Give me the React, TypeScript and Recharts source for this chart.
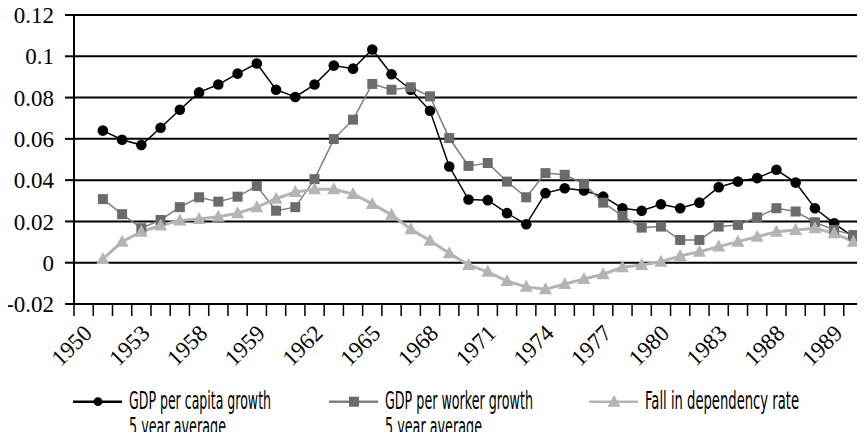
import React from "react";
import { LineChart, Line, XAxis, YAxis, CartesianGrid, Legend, ReferenceLine } from "recharts";

// ---- data ----
const axisFirstYear = 1950;
const axisLastYear = 1990;
const years = [
  1951, 1952, 1953, 1954, 1955, 1956, 1957, 1958, 1959, 1960,
  1961, 1962, 1963, 1964, 1965, 1966, 1967, 1968, 1969, 1970,
  1971, 1972, 1973, 1974, 1975, 1976, 1977, 1978, 1979, 1980,
  1981, 1982, 1983, 1984, 1985, 1986, 1987, 1988, 1989, 1990,
];
const xTickLabels = ["1950", "1953", "1958", "1959", "1962", "1965", "1968", "1971", "1974", "1977", "1980", "1983", "1988", "1989"];
const yTicks = [-0.02, 0, 0.02, 0.04, 0.06, 0.08, 0.1, 0.12];

const perCapita = [
  0.064, 0.0596, 0.057, 0.0654, 0.0741, 0.0825, 0.0863, 0.0916, 0.0965, 0.0838,
  0.0803, 0.0863, 0.0955, 0.094, 0.1033, 0.0913, 0.0838, 0.0736, 0.0466, 0.0306,
  0.0303, 0.024, 0.0186, 0.0337, 0.0361, 0.035, 0.032, 0.0264, 0.0252, 0.0283,
  0.0264, 0.0291, 0.0366, 0.0393, 0.041, 0.045, 0.0388, 0.0264, 0.0191, 0.0125,
];
const perWorker = [
  0.0308, 0.0235, 0.0167, 0.0207, 0.0269, 0.0317, 0.0296, 0.032, 0.0372, 0.0252,
  0.0269, 0.0405, 0.0599, 0.0693, 0.0866, 0.0838, 0.085, 0.0806, 0.0604, 0.0469,
  0.0483, 0.0393, 0.0317, 0.0434, 0.0426, 0.0382, 0.0291, 0.0227, 0.017, 0.0175,
  0.011, 0.011, 0.0175, 0.0183, 0.022, 0.0264, 0.0248, 0.0196, 0.0159, 0.0134,
];
const dependency = [
  0.0018, 0.0102, 0.015, 0.018, 0.0204, 0.0212, 0.0223, 0.024, 0.0269, 0.031,
  0.0343, 0.0356, 0.0356, 0.0333, 0.0285, 0.0232, 0.0162, 0.0107, 0.0046, -0.0011,
  -0.0044, -0.0089, -0.0117, -0.0129, -0.0103, -0.0079, -0.0056, -0.0022, -0.0011, 0.0005,
  0.0033, 0.0053, 0.0078, 0.0102, 0.0126, 0.015, 0.0159, 0.0167, 0.0143, 0.0102,
];

const seriesNames = {
  perCapita: "GDP per capita growth\n5 year average",
  perWorker: "GDP per worker growth\n5 year average",
  dependency: "Fall in dependency rate",
};
const legendOrder = ["perCapita", "perWorker", "dependency"];

// ---- derived table for recharts ----
const slotCount = axisLastYear - axisFirstYear + 1;
const rows = years.map((y, i) => ({
  pos: y - axisFirstYear + 0.5,
  year: y,
  perCapita: perCapita[i],
  perWorker: perWorker[i],
  dependency: dependency[i],
}));
const xTicks: number[] = [];
for (let k = 0; k <= slotCount * 2; k++) xTicks.push(k / 2);

// ---- styles ----
const SERIF = "Liberation Serif, Times New Roman, serif";
const COND = "DejaVu Sans, Liberation Sans, sans-serif";
const C_BLACK = "#000000";
const C_WORKER_LINE = "#7f7f7f";
const C_WORKER_MARK = "#6b6b6b";
const C_DEP = "#b2b4b6";

const XTick = (props: any) => {
  const { x, y, payload } = props;
  const v = payload.value as number;
  if (Number.isInteger(v)) {
    return <line x1={x} x2={x} y1={y} y2={y + 12} stroke="#000" strokeWidth={1.5} />;
  }
  const slot = v - 0.5;
  if (slot % 3 !== 0) return <g />;
  const label = xTickLabels[slot / 3];
  if (!label) return <g />;
  const ax = x + 4;
  const ay = y + 25;
  return (
    <text
      x={ax}
      y={ay}
      dy="0.35em"
      textAnchor="end"
      transform={`rotate(-45 ${ax} ${ay})`}
      style={{ fontFamily: SERIF, fontSize: 23 }}
      fill="#000"
    >
      {label}
    </text>
  );
};

const CircleDot = (p: any) => {
  if (p.cx == null || p.cy == null) return <g key={p.key} />;
  return <circle key={p.key} cx={p.cx} cy={p.cy} r={5.3} fill={C_BLACK} />;
};
const SquareDot = (p: any) => {
  if (p.cx == null || p.cy == null) return <g key={p.key} />;
  return <rect key={p.key} x={p.cx - 5} y={p.cy - 5} width={10} height={10} fill={C_WORKER_MARK} />;
};
const TriDot = (p: any) => {
  if (p.cx == null || p.cy == null) return <g key={p.key} />;
  const { cx, cy } = p;
  return (
    <polygon
      key={p.key}
      points={`${cx},${cy - 7} ${cx + 6.5},${cy + 5} ${cx - 6.5},${cy + 5}`}
      fill={C_DEP}
    />
  );
};

const legendX: Record<string, number> = { perCapita: 73, perWorker: 329, dependency: 589 };
const legendTextLen: Record<string, number[]> = {
  perCapita: [142, 97],
  perWorker: [148, 97],
  dependency: [154],
};
const LEGEND_SQUEEZE = 0.5;

const LegendContent = (props: any) => {
  const payload = (props.payload || []) as any[];
  const sorted = [...payload].sort(
    (a, b) => legendOrder.indexOf(String(a.dataKey)) - legendOrder.indexOf(String(b.dataKey))
  );
  return (
    <svg width={865} height={56} style={{ display: "block", overflow: "visible" }}>
      {sorted.map((entry) => {
        const key = String(entry.dataKey);
        const lx = legendX[key];
        const cy = 17.7;
        const mid = lx + 25;
        const lines = String(entry.value).split("\n");
        let marker: React.ReactNode = null;
        let lineColor = C_BLACK;
        if (key === "perCapita") {
          lineColor = C_BLACK;
          marker = <circle cx={mid} cy={cy} r={4.4} fill={C_BLACK} />;
        } else if (key === "perWorker") {
          lineColor = C_WORKER_LINE;
          marker = <rect x={mid - 5} y={cy - 5} width={10} height={10} fill={C_WORKER_MARK} />;
        } else {
          lineColor = C_DEP;
          marker = (
            <polygon points={`${mid},${cy - 7} ${mid + 6.5},${cy + 5} ${mid - 6.5},${cy + 5}`} fill={C_DEP} />
          );
        }
        return (
          <g key={key}>
            <line x1={lx} x2={lx + 49} y1={cy} y2={cy} stroke={lineColor} strokeWidth={2.6} />
            {marker}
            {lines.map((t, j) => (
              <text
                key={j}
                x={0}
                y={0}
                transform={`translate(${lx + 56} ${24.5 + j * 26.5}) scale(${LEGEND_SQUEEZE} 1)`}
                style={{ fontFamily: COND, fontSize: 25 }}
                fill="#000"
                textLength={legendTextLen[key][j] / LEGEND_SQUEEZE}
                lengthAdjust="spacingAndGlyphs"
              >
                {t}
              </text>
            ))}
          </g>
        );
      })}
    </svg>
  );
};

export default function App() {
  return (
    <div style={{ margin: "-8px", width: 865, height: 440, background: "#fff", overflow: "hidden" }}>
      <LineChart
        width={865}
        height={440}
        data={rows}
        margin={{ top: 15, right: 2, bottom: 0, left: 0 }}
      >
        <CartesianGrid horizontal vertical={false} stroke="#000" strokeWidth={2} />
        <XAxis
          dataKey="pos"
          type="number"
          domain={[0, slotCount]}
          ticks={xTicks}
          interval={0}
          height={80}
          tickSize={0}
          tickMargin={0}
          tickLine={false}
          tick={<XTick />}
          axisLine={{ stroke: "#000", strokeWidth: 2 }}
          allowDataOverflow
        />
        <YAxis
          type="number"
          domain={[-0.02, 0.12]}
          ticks={yTicks}
          interval={0}
          width={74}
          tickSize={9}
          tickMargin={11}
          tickLine={{ stroke: "#000", strokeWidth: 2 }}
          axisLine={{ stroke: "#000", strokeWidth: 2 }}
          tick={{ fill: "#000", fontFamily: SERIF, fontSize: 23 }}
          tickFormatter={(v: number) => String(parseFloat(Number(v).toFixed(2)))}
          allowDataOverflow
        />
        <ReferenceLine x={slotCount} stroke="#000" strokeWidth={3} />
        <Legend
          verticalAlign="bottom"
          align="left"
          height={56}
          wrapperStyle={{ left: 0, top: 384, bottom: "auto", height: 56 }}
          content={<LegendContent />}
        />
        <Line
          type="linear"
          dataKey="perCapita"
          name={seriesNames.perCapita}
          stroke={C_BLACK}
          strokeWidth={1.5}
          dot={CircleDot}
          activeDot={false}
          isAnimationActive={false}
        />
        <Line
          type="linear"
          dataKey="perWorker"
          name={seriesNames.perWorker}
          stroke={C_WORKER_LINE}
          strokeWidth={1.5}
          dot={SquareDot}
          activeDot={false}
          isAnimationActive={false}
        />
        <Line
          type="linear"
          dataKey="dependency"
          name={seriesNames.dependency}
          stroke={C_DEP}
          strokeWidth={3}
          dot={TriDot}
          activeDot={false}
          isAnimationActive={false}
        />
      </LineChart>
    </div>
  );
}
